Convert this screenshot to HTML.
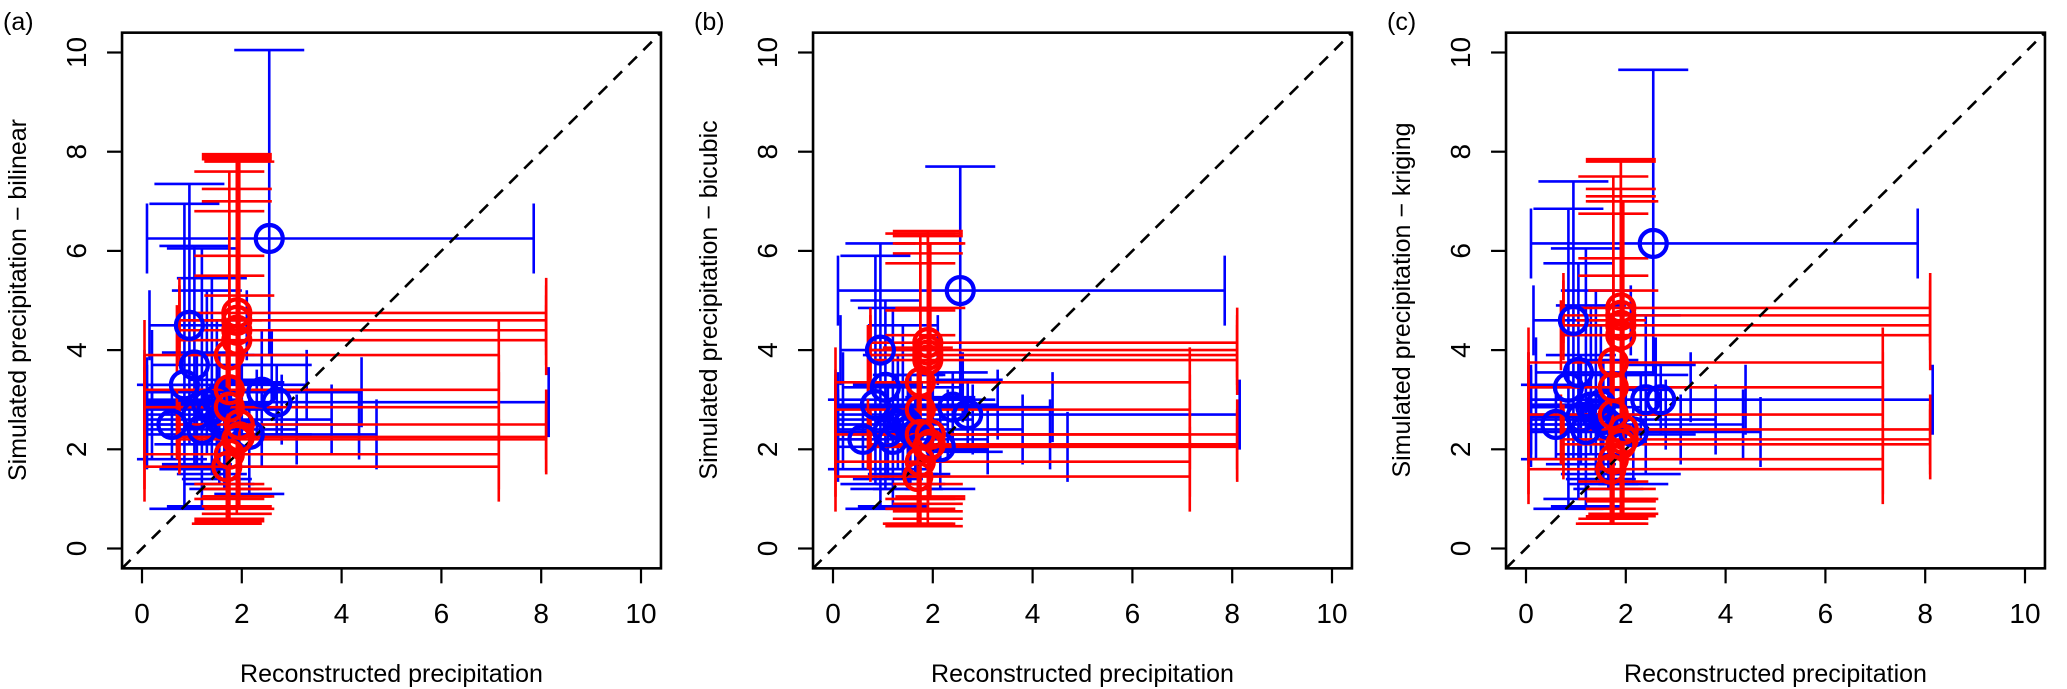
<!DOCTYPE html>
<html><head><meta charset="utf-8"><style>
html,body{margin:0;padding:0;background:#fff;}
svg{display:block;font-family:"Liberation Sans",Arial,sans-serif;}
</style></head><body>
<svg id="fig" width="2067" height="689" viewBox="0 0 2067 689" xmlns="http://www.w3.org/2000/svg"></svg>
<script>
// shared reconstructed (x) data
const blueX   = [2.55,0.95,1.05,0.85,2.4,2.7,1.2,2.15,1.4,1.55,1.3,1.65,1.1,1.5,0.6];
const blueXlo = [0.1,0.15,0.2,0.05,0.1,0.05,0.05,0.1,0.05,0.1,0.05,0.2,0.05,0.1,0.05];
const blueXhi = [7.85,2.1,2.6,3.3,4.4,8.15,3.1,4.7,2.8,3.8,2.3,4.35,1.9,2.0,1.5];
const redX    = [1.9,1.9,1.9,1.9,1.75,1.75,1.75,1.95,1.95,1.75,1.7,1.9];
const redXlo  = [0.75,0.75,0.75,0.7,0.05,0.05,0.05,0.7,0.75,0.05,0.05,0.75];
const redXhi  = [8.1,8.1,8.1,8.1,7.15,7.15,7.15,8.1,8.1,7.15,7.15,8.1];
// panel (a) bilinear
const blueYa   = [6.25,4.5,3.7,3.3,3.15,2.95,2.4,2.3,2.8,2.6,2.9,2.5,2.7,3.0,2.5];
const blueYloA = [3.9,2.1,1.6,0.8,1.65,2.3,0.85,1.1,1.5,1.3,1.9,1.2,1.7,1.4,1.8];
const blueYhiA = [10.05,7.35,6.1,6.95,4.4,3.7,6.05,3.35,5.45,3.9,5.2,3.4,3.95,4.6,3.3];
const redYa    = [4.75,4.6,4.4,4.2,3.9,3.2,2.85,2.5,2.25,1.9,1.65,2.2];
const redYloA  = [1.2,1.05,0.85,0.7,1.3,0.55,1.0,0.8,1.05,0.6,0.5,1.2];
const redYhiA  = [7.95,7.85,7.25,7.0,7.6,6.8,5.9,5.1,7.8,5.5,4.6,7.9];
// panel (b) bicubic
const blueYb   = [5.2,4.0,3.25,2.9,2.85,2.7,2.2,2.05,2.6,2.4,2.5,2.3,2.35,2.5,2.2];
const blueYloB = [3.0,0.8,1.2,1.3,2.0,1.95,0.85,1.2,1.5,1.3,1.6,1.5,1.4,1.2,1.6];
const blueYhiB = [7.7,6.15,5.0,5.9,3.55,3.4,4.85,3.05,4.5,3.5,3.9,3.0,3.3,3.5,3.0];
const redYb    = [4.15,4.0,3.9,3.8,3.35,2.8,2.3,2.3,2.1,1.75,1.45,2.05];
const redYloB  = [0.9,0.75,0.6,0.45,1.0,0.5,0.8,1.0,1.05,0.45,0.5,1.3];
const redYhiB  = [6.4,6.3,6.15,5.95,6.35,5.75,4.8,4.85,6.15,4.3,4.05,6.35];
// panel (c) kriging
const blueYc   = [6.15,4.6,3.55,3.25,3.0,3.0,2.4,2.35,2.7,2.6,2.85,2.5,2.65,2.9,2.5];
const blueYloC = [3.5,1.8,1.0,0.8,1.5,2.3,0.85,1.3,1.5,1.3,1.9,1.2,1.7,1.4,1.8];
const blueYhiC = [9.65,7.4,5.75,6.85,4.7,3.7,6.05,3.2,5.2,3.8,4.9,3.5,3.9,4.5,3.3];
const redYc    = [4.85,4.7,4.5,4.3,3.75,3.25,2.7,2.4,2.2,1.8,1.6,2.1];
const redYloC  = [1.0,0.95,0.8,0.65,1.35,0.5,1.0,0.7,1.0,0.6,0.5,1.2];
const redYhiC  = [7.85,7.8,7.25,7.1,7.5,6.75,5.85,5.2,7.0,5.5,4.6,7.0];
const tickVals = [0,2,4,6,8,10];
const panelLabels = ["(a)","(b)","(c)"];
const yTitles = ["Simulated precipitation \u2212 bilinear","Simulated precipitation \u2212 bicubic","Simulated precipitation \u2212 kriging"];

const NS="http://www.w3.org/2000/svg";
const svg=document.getElementById('fig');
function mk(tag,attrs,parent){const e=document.createElementNS(NS,tag);for(const k in attrs)e.setAttribute(k,attrs[k]);parent.appendChild(e);return e;}
const offsets=[0,691,1384];
const X0=142,SX=49.9,Y0=548.5,SY=49.6,CAP=35,FS=28,TS=25;
const panels=[
 {by:blueYa,bl:blueYloA,bh:blueYhiA,ry:redYa,rl:redYloA,rh:redYhiA},
 {by:blueYb,bl:blueYloB,bh:blueYhiB,ry:redYb,rl:redYloB,rh:redYhiB},
 {by:blueYc,bl:blueYloC,bh:blueYhiC,ry:redYc,rl:redYloC,rh:redYhiC}];
panels.forEach((p,pi)=>{
 const ox=offsets[pi];
 const xs=v=>ox+X0+v*SX, ys=v=>Y0-v*SY;
 const g=mk('g',{},svg);
 
 
 const bx0=xs(-0.4),bx1=xs(10.4),by0=ys(10.4),by1=ys(-0.4);
 const cp=mk('clipPath',{id:'clip'+pi},g);
 mk('rect',{x:bx0,y:by0,width:bx1-bx0,height:by1-by0},cp);
 const plot=mk('g',{'clip-path':'url(#clip'+pi+')'},g);
 
 
 function errbar(x,y,xl,xh,yl,yh,col,name){
  const e=mk('g',{stroke:col,'stroke-width':2.6,fill:'none'},plot);
  
  
  mk('line',{x1:xs(xl),y1:ys(y),x2:xs(xh),y2:ys(y)},e);
  mk('line',{x1:xs(xl),y1:ys(y)-CAP,x2:xs(xl),y2:ys(y)+CAP},e);
  mk('line',{x1:xs(xh),y1:ys(y)-CAP,x2:xs(xh),y2:ys(y)+CAP},e);
  mk('line',{x1:xs(x),y1:ys(yl),x2:xs(x),y2:ys(yh)},e);
  mk('line',{x1:xs(x)-CAP,y1:ys(yl),x2:xs(x)+CAP,y2:ys(yl)},e);
  mk('line',{x1:xs(x)-CAP,y1:ys(yh),x2:xs(x)+CAP,y2:ys(yh)},e);
 }
 blueX.forEach((x,i)=>errbar(x,p.by[i],blueXlo[i],blueXhi[i],p.bl[i],p.bh[i],'#0000ff','blue-errorbar'));
 redX.forEach((x,i)=>errbar(x,p.ry[i],redXlo[i],redXhi[i],p.rl[i],p.rh[i],'#ff0000','red-errorbar'));
 const dl=mk('line',{x1:xs(-0.4),y1:ys(-0.4),x2:xs(10.4),y2:ys(10.4),stroke:'#000','stroke-width':2.6,'stroke-dasharray':'12 9'},plot);
 
 
 blueX.forEach((x,i)=>{const c=mk('circle',{cx:xs(x),cy:ys(p.by[i]),r:13.5,fill:'none',stroke:'#0000ff','stroke-width':4.2},plot);
  
  });
 redX.forEach((x,i)=>{const c=mk('circle',{cx:xs(x),cy:ys(p.ry[i]),r:13.5,fill:'none',stroke:'#ff0000','stroke-width':4.2},plot);
  
  });
 const box=mk('rect',{x:bx0,y:by0,width:bx1-bx0,height:by1-by0,fill:'none',stroke:'#000','stroke-width':2.6},g);
 
 
 tickVals.forEach(v=>{
  const t=mk('line',{x1:xs(v),y1:by1,x2:xs(v),y2:by1+15,stroke:'#000','stroke-width':2.2},g);
  
  
  const tl=mk('text',{x:xs(v),y:623,'font-size':FS,'text-anchor':'middle'},g);tl.textContent=v;
  
  
  const u=mk('line',{x1:bx0,y1:ys(v),x2:bx0-15,y2:ys(v),stroke:'#000','stroke-width':2.2},g);
  
  
  const ul=mk('text',{x:0,y:0,'font-size':FS,'text-anchor':'middle',transform:`translate(${ox+86},${ys(v)}) rotate(-90)`},g);ul.textContent=v;
  
  
 });
 const xt=mk('text',{x:(bx0+bx1)/2,y:682,'font-size':TS,'text-anchor':'middle'},g);xt.textContent='Reconstructed precipitation';
 
 
 const yt=mk('text',{x:0,y:0,'font-size':TS,'text-anchor':'middle',transform:`translate(${ox+26},300) rotate(-90)`},g);yt.textContent=yTitles[pi];
 
 
 const pl=mk('text',{x:ox+3,y:30,'font-size':TS},g);pl.textContent=panelLabels[pi];
 
 
});
</script>
</body></html>
